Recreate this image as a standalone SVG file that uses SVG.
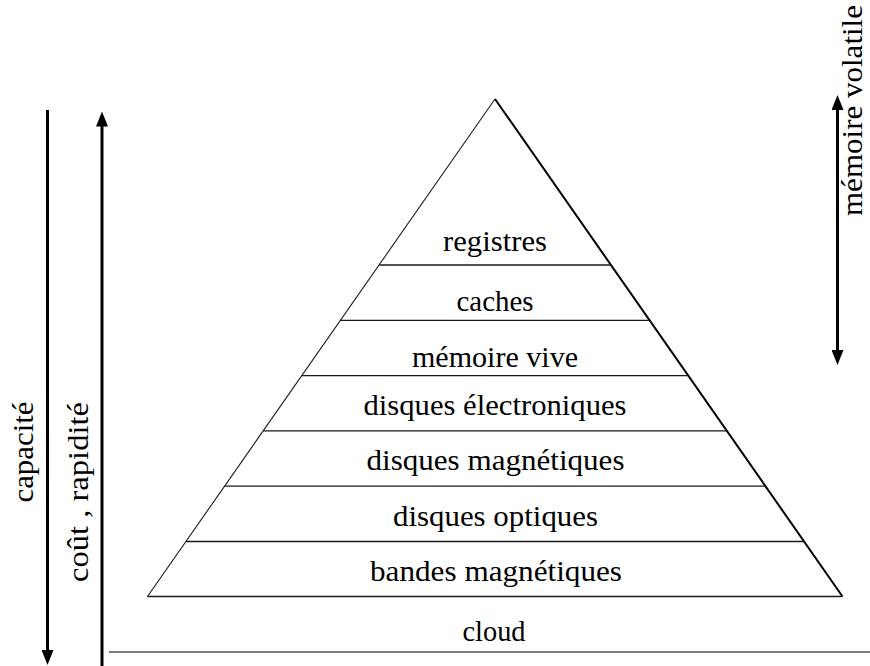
<svg xmlns="http://www.w3.org/2000/svg" width="870" height="666" viewBox="0 0 870 666">
  <style>
    text { font-family: 'Liberation Serif', 'DejaVu Serif', serif; font-size: 29px; fill: #000; text-anchor: middle; }
    .sep { stroke: #1a1a1a; stroke-width: 1.3; fill: none; }
    .edgeL { stroke: #1a1a1a; stroke-width: 1.1; fill: none; }
    .edgeR { stroke: #000; stroke-width: 2; fill: none; }
    .arr { stroke: #000; stroke-width: 3; fill: none; }
    .cloudline { stroke: #555; stroke-width: 1.4; fill: none; }
  </style>
  <defs>
    <marker id="ah" viewBox="0 0 15 12" markerUnits="userSpaceOnUse" markerWidth="15" markerHeight="12" refX="1" refY="6" orient="auto-start-reverse">
      <path d="M0,0 L15,6 L0,12 z" fill="#000"/>
    </marker>
  </defs>

  <rect x="0" y="0" width="870" height="666" fill="#fff"/>

  <g id="pyramid">
    <line class="edgeL" x1="495" y1="99" x2="147.5" y2="596.5"/>
    <line class="edgeR" x1="495" y1="99" x2="842.5" y2="596.5"/>
  </g>

  <g id="registres">
    <line class="sep" x1="379.2" y1="265" x2="610.8" y2="265"/>
    <text x="495" y="251" textLength="104" lengthAdjust="spacingAndGlyphs">registres</text>
  </g>
  <g id="caches">
    <line class="sep" x1="340.6" y1="320.3" x2="649.4" y2="320.3"/>
    <text x="495" y="311" textLength="77" lengthAdjust="spacingAndGlyphs">caches</text>
  </g>
  <g id="memoire-vive">
    <line class="sep" x1="301.9" y1="375.6" x2="688.1" y2="375.6"/>
    <text x="495" y="367" textLength="166" lengthAdjust="spacingAndGlyphs">mémoire vive</text>
  </g>
  <g id="disques-electroniques">
    <line class="sep" x1="263.3" y1="430.9" x2="726.7" y2="430.9"/>
    <text x="495" y="415" textLength="263" lengthAdjust="spacingAndGlyphs">disques électroniques</text>
  </g>
  <g id="disques-magnetiques">
    <line class="sep" x1="224.7" y1="486.2" x2="765.3" y2="486.2"/>
    <text x="495.5" y="470" textLength="258" lengthAdjust="spacingAndGlyphs">disques magnétiques</text>
  </g>
  <g id="disques-optiques">
    <line class="sep" x1="186.1" y1="541.5" x2="803.9" y2="541.5"/>
    <text x="495.5" y="526" textLength="205" lengthAdjust="spacingAndGlyphs">disques optiques</text>
  </g>
  <g id="bandes-magnetiques">
    <line class="sep" x1="147.5" y1="596.5" x2="842.5" y2="596.5"/>
    <text x="496" y="581" textLength="252" lengthAdjust="spacingAndGlyphs">bandes magnétiques</text>
  </g>
  <g id="cloud">
    <line class="cloudline" x1="109" y1="652" x2="870" y2="652"/>
    <text x="494" y="641" textLength="63" lengthAdjust="spacingAndGlyphs">cloud</text>
  </g>

  <g id="connectors">
    <line class="arr" x1="47.5" y1="110" x2="47.5" y2="651" marker-end="url(#ah)"/>
    <line class="arr" x1="102" y1="666" x2="102" y2="125.5" marker-end="url(#ah)"/>
    <line class="arr" x1="837.5" y1="109" x2="837.5" y2="351" marker-start="url(#ah)" marker-end="url(#ah)"/>
  </g>

  <g id="axis-labels">
    <text transform="translate(33,452) rotate(-90)" textLength="101" lengthAdjust="spacingAndGlyphs">capacité</text>
    <text transform="translate(88,492) rotate(-90)" textLength="180" lengthAdjust="spacingAndGlyphs">coût , rapidité</text>
    <text transform="translate(862,110.5) rotate(-90)" textLength="211" lengthAdjust="spacingAndGlyphs">mémoire volatile</text>
  </g>
</svg>
